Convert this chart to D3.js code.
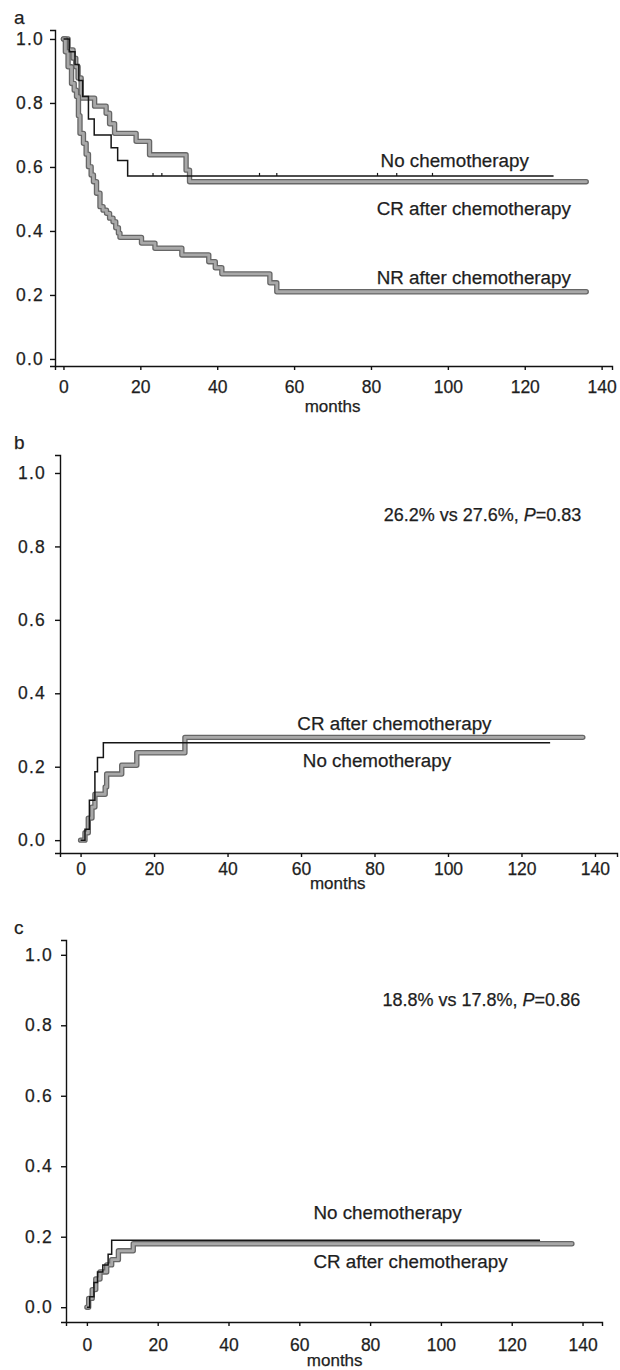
<!DOCTYPE html>
<html>
<head>
<meta charset="utf-8">
<script src="https://cdn.jsdelivr.net/npm/d3@7"></script>
<style>
  body { margin: 0; background: #fff; }
  text { font-family: "Liberation Sans", Arial, sans-serif; fill: #1e1e1e; stroke: #1e1e1e; stroke-width: 0.25; }
</style>
</head>
<body>
<svg width="620" height="1370" id="mainsvg"></svg>
<script>
// ---- data (months, cumulative proportion) ----
const xTicks = [0, 20, 40, 60, 80, 100, 120, 140];
const yTicks = [0, 0.2, 0.4, 0.6, 0.8, 1.0];

// panel a: overall survival
const aNoChemoT = [0, 1.5, 3, 4, 5, 6.5, 8, 12.4, 14.1, 16.7, 127.5];
const aNoChemoS = [1, 0.96, 0.92, 0.87, 0.82, 0.75, 0.70, 0.66, 0.62, 0.572, 0.572];
const aNoChemoCensor = [23.3, 25.6, 51, 55.5, 81.7, 86.7, 96];
const aCRT = [0, 1.2, 2.5, 3.2, 3.8, 4.6, 8.1, 11.1, 12, 13.3, 18.9, 22.4, 31.9, 32.8, 136];
const aCRS = [1, 0.966, 0.94, 0.913, 0.878, 0.815, 0.79, 0.768, 0.735, 0.705, 0.68, 0.638, 0.59, 0.554, 0.554];
const aNRT = [0, 0.5, 1.2, 2.1, 2.8, 3.4, 3.9, 4.3, 5.2, 5.9, 6.5, 7.2, 7.8, 8.6, 9.5, 10.3, 11.2, 12, 12.9, 13.6, 14.3, 14.7, 20.3, 23.8, 30.8, 37.8, 39.5, 41.2, 53.7, 55.5, 136];
const aNRS = [1, 0.96, 0.913, 0.861, 0.84, 0.82, 0.76, 0.705, 0.674, 0.64, 0.601, 0.575, 0.554, 0.518, 0.476, 0.465, 0.455, 0.44, 0.429, 0.41, 0.393, 0.38, 0.362, 0.346, 0.325, 0.304, 0.285, 0.266, 0.238, 0.21, 0.21];

// panel b: cumulative incidence
const bNoChemoT = [0, 1.2, 2.4, 3.9, 4.6, 6.2, 127.8];
const bNoChemoS = [0, 0.03, 0.109, 0.186, 0.225, 0.265, 0.265];
const bCRT = [0, 1.2, 2.1, 3.1, 3.9, 6.7, 7.1, 11.2, 15.3, 28.4, 136.7];
const bCRS = [0, 0.02, 0.06, 0.09, 0.125, 0.145, 0.18, 0.204, 0.238, 0.28, 0.28];

// panel c: cumulative incidence
const cNoChemoT = [0, 0.8, 2, 3, 4.5, 6, 7, 128];
const cNoChemoS = [0, 0.03, 0.07, 0.1, 0.12, 0.15, 0.19, 0.19];
const cCRT = [0, 0.5, 1.5, 2.5, 3.7, 5.6, 7, 8.9, 13.1, 137];
const cCRS = [0, 0.025, 0.05, 0.08, 0.1, 0.12, 0.135, 0.16, 0.18, 0.18];

const svg = d3.select('#mainsvg');
const zip = (t, s) => t.map((d, i) => [d, s[i]]);

function drawPanel(p) {
  const g = svg.append('g');
  const xScale = d3.scaleLinear().domain(p.xDomain).range([p.left, p.right]);
  const yScale = d3.scaleLinear().domain(p.yDomain).range([p.bottom, p.top]);

  const xAxis = g.append('g')
    .attr('transform', `translate(0, ${p.bottom})`)
    .call(d3.axisBottom(xScale).tickValues(xTicks).tickSizeOuter(0).tickSize(4).tickPadding(p.xPad));
  const yAxis = g.append('g')
    .attr('transform', `translate(${p.left}, 0)`)
    .call(d3.axisLeft(yScale).tickValues(yTicks).tickFormat(d3.format('.1f')).tickSizeOuter(0).tickSize(5).tickPadding(p.yPad));
  [xAxis, yAxis].forEach(ax => {
    ax.selectAll('path, line').attr('stroke', '#111').attr('stroke-width', 1.4);
    ax.selectAll('text').attr('font-size', 17.5).attr('font-family', '"Liberation Sans", Arial, sans-serif').attr('fill', '#1e1e1e');
  });
  yAxis.selectAll('text').attr('letter-spacing', 1.2);

  g.append('text').attr('x', xScale(70)).attr('y', p.bottom + p.monthsDy)
    .attr('text-anchor', 'middle').attr('font-size', 17).text('months');
  g.append('text').attr('x', 14).attr('y', p.top - 6).attr('font-size', 19).text(p.letter);

  const line = d3.line().x(d => xScale(d[0])).y(d => yScale(d[1])).curve(d3.curveStepAfter);

  p.thick.forEach(s => {
    g.append('path').attr('d', line(s)).attr('fill', 'none')
      .attr('stroke', '#666').attr('stroke-width', 5.4).attr('stroke-linejoin', 'round').attr('stroke-linecap', 'round');
    g.append('path').attr('d', line(s)).attr('fill', 'none')
      .attr('stroke', '#a8a8a8').attr('stroke-width', 2.8).attr('stroke-linejoin', 'round').attr('stroke-linecap', 'round');
  });
  p.thin.forEach(s => {
    g.append('path').attr('d', line(s)).attr('fill', 'none')
      .attr('stroke', '#151515').attr('stroke-width', 1.5);
  });
  if (p.censor) {
    g.selectAll('.censor').data(p.censor.times).join('line')
      .attr('x1', d => xScale(d)).attr('x2', d => xScale(d))
      .attr('y1', yScale(p.censor.level)).attr('y2', yScale(p.censor.level) - 3)
      .attr('stroke', '#151515').attr('stroke-width', 1.2);
  }

  p.labels.forEach(l => {
    const t = g.append('text').attr('x', xScale(l.m)).attr('y', yScale(l.v))
      .attr('font-size', l.size || 18.8).attr('text-anchor', 'start');
    if (l.p) {
      t.append('tspan').text(l.text);
      t.append('tspan').attr('font-style', 'italic').text('P');
      t.append('tspan').text(l.p);
    } else {
      t.text(l.text);
    }
  });
}

drawPanel({
  letter: 'a', left: 55, right: 612, top: 30, bottom: 366,
  xDomain: [-2.2, 142.7], yDomain: [-0.022, 1.028], xPad: 11, yPad: 6, monthsDy: 46,
  thick: [zip(aCRT, aCRS), zip(aNRT, aNRS)],
  thin: [zip(aNoChemoT, aNoChemoS)],
  censor: { times: aNoChemoCensor, level: 0.572 },
  labels: [
    { text: 'No chemotherapy', m: 82.5, v: 0.6 },
    { text: 'CR after chemotherapy', m: 81.5, v: 0.45 },
    { text: 'NR after chemotherapy', m: 81.5, v: 0.235 }
  ]
});

drawPanel({
  letter: 'b', left: 60, right: 617, top: 455, bottom: 853,
  xDomain: [-5.6, 146], yDomain: [-0.035, 1.049], xPad: 6, yPad: 9, monthsDy: 36,
  thick: [zip(bCRT, bCRS)],
  thin: [zip(bNoChemoT, bNoChemoS)],
  labels: [
    { text: '26.2% vs 27.6%, ', p: '=0.83', m: 82.5, v: 0.868, size: 18 },
    { text: 'CR after chemotherapy', m: 59, v: 0.3 },
    { text: 'No chemotherapy', m: 60.5, v: 0.2 }
  ]
});

drawPanel({
  letter: 'c', left: 66, right: 602, top: 940, bottom: 1322,
  xDomain: [-5.9, 145.5], yDomain: [-0.042, 1.042], xPad: 13, yPad: 8, monthsDy: 44,
  thick: [zip(cCRT, cCRS)],
  thin: [zip(cNoChemoT, cNoChemoS)],
  labels: [
    { text: '18.8% vs 17.8%, ', p: '=0.86', m: 83.5, v: 0.855, size: 18 },
    { text: 'No chemotherapy', m: 64, v: 0.25 },
    { text: 'CR after chemotherapy', m: 64, v: 0.11 }
  ]
});
</script>
</body>
</html>
